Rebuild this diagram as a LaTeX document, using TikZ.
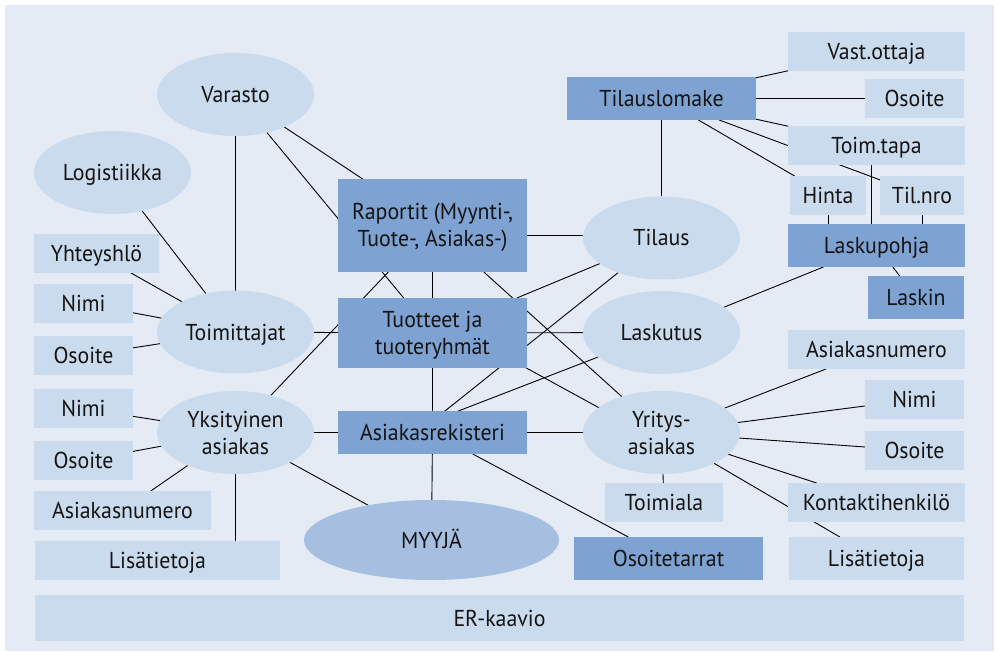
\documentclass[tikz,border=0pt]{standalone}
\usepackage{fontspec}
\setmainfont{PT Sans}[FakeStretch=0.95]
\usetikzlibrary{shapes.geometric}
\definecolor{paneBg}{HTML}{E4EBF5}
\definecolor{attrFill}{HTML}{CBDBEE}
\definecolor{entityFill}{HTML}{7EA2D2}
\definecolor{sellerFill}{HTML}{A6BFE0}
\pgfdeclarelayer{backdrop}
\pgfdeclarelayer{wires}
\pgfsetlayers{backdrop,wires,main}

\begin{document}
\begin{tikzpicture}[x=1pt,y=-1pt,
  every node/.style={font=\fontsize{23}{27}\selectfont, text=black!92, inner sep=0pt, outer sep=0pt},
  one/.style={text height=16pt, text depth=0pt},
  two/.style={align=center, text height=43pt, text depth=0pt},
  box/.style 2 args={rectangle, minimum width=#1pt, minimum height=#2pt},
  attr/.style={fill=attrFill},
  entity/.style={fill=entityFill},
  oval/.style={ellipse, fill=attrFill, minimum width=157pt, minimum height=83pt},
  wire/.style={draw=black, line width=0.9pt}
]
\useasboundingbox (0,0) rectangle (998,652);

% ---- entity ellipses ----
\node[oval,one] (varasto) at (235.5,94.5) {Varasto};
\node[oval,one] (logistiikka) at (112.5,172.5) {Logistiikka};
\node[oval,one] (toimittajat) at (235.5,332) {Toimittajat};
\node[oval,two] (yksityinen) at (235.5,432.5) {Yksityinen\\asiakas};
\node[oval,one] (tilaus) at (661.5,238) {Tilaus};
\node[oval,one] (laskutus) at (661.5,332.5) {Laskutus};
\node[oval,two] (yritys) at (661.5,432.5) {Yritys-\\asiakas};
\node[oval,one,fill=sellerFill,minimum width=255pt,minimum height=80pt] (myyja) at (431.5,540) {MYYJÄ};

% ---- main records ----
\node[entity,box={189}{93},two] (raportit) at (432.5,225.5) {Raportit (Myynti-,\\Tuote-, Asiakas-)};
\node[entity,box={189}{70},two] (tuotteet) at (432.5,333) {Tuotteet ja\\tuoteryhmät};
\node[entity,box={189}{43},one] (asiakasrek) at (432.5,432.5) {Asiakasrekisteri};
\node[entity,box={189}{43},one] (tilauslomake) at (661.5,98.5) {Tilauslomake};
\node[entity,box={177}{43},one] (laskupohja) at (876.5,245.5) {Laskupohja};
\node[entity,box={96}{43},one] (laskin) at (916,297.5) {Laskin};
\node[entity,box={189}{43},one] (osoitetarrat) at (668.5,558.5) {Osoitetarrat};

% ---- attributes ----
\node[attr,box={177}{39},one] (vastottaja) at (876.5,51.5) {Vast.ottaja};
\node[attr,box={99}{39},one] (osoitea) at (914.5,98.5) {Osoite};
\node[attr,box={177}{39},one] (toimtapa) at (876.5,145.5) {Toim.tapa};
\node[attr,box={76}{39},one] (hinta) at (828,195.5) {Hinta};
\node[attr,box={84}{39},one] (tilnro) at (922,195.5) {Til.nro};

\node[attr,box={125}{39},one] (yhteyshlo) at (96.5,253.5) {Yhteyshlö};
\node[attr,box={99}{39},one] (nimia) at (83.5,303.5) {Nimi};
\node[attr,box={99}{39},one] (osoiteb) at (83.5,355.5) {Osoite};
\node[attr,box={99}{39},one] (nimib) at (83.5,408.5) {Nimi};
\node[attr,box={99}{39},one] (osoitec) at (83.5,460.5) {Osoite};
\node[attr,box={177}{39},one] (asnrol) at (122.5,510.5) {Asiakasnumero};
\node[attr,box={245}{39},one] (lisatl) at (157.5,560.5) {Lisätietoja};

\node[attr,box={177}{39},one] (asnror) at (876.5,349.5) {Asiakasnumero};
\node[attr,box={99}{39},one] (nimir) at (914.5,399.5) {Nimi};
\node[attr,box={99}{39},one] (osoiter) at (914.5,450.5) {Osoite};
\node[attr,box={177}{39},one] (kontakti) at (876.5,502.5) {Kontaktihenkilö};
\node[attr,box={175}{43},one] (lisatr) at (876.5,558.5) {Lisätietoja};
\node[attr,box={118}{39},one] (toimiala) at (664,502.5) {Toimiala};

\node[attr,box={929}{46},one] (er) at (499.5,618) {ER-kaavio};

\coordinate (ahub) at ([yshift=11.5pt]asiakasrek.center);

% ---- panel ----
\begin{pgfonlayer}{backdrop}
  \fill[paneBg] (5,5) rectangle (994,651);
\end{pgfonlayer}

% ---- connectors, running beneath the shapes ----
\begin{pgfonlayer}{wires}
  \path[wire] (varasto) -- (toimittajat);
  \path[wire] (varasto) -- (raportit);
  \path[wire] (varasto) -- (tuotteet);
  \path[wire] (logistiikka) -- (toimittajat);
  \path[wire] (yhteyshlo) -- (toimittajat);
  \path[wire] (nimia) -- (toimittajat);
  \path[wire] (osoiteb) -- (toimittajat);
  \path[wire] (toimittajat) -- (tuotteet);
  \path[wire] (nimib) -- (yksityinen);
  \path[wire] (osoitec) -- (yksityinen);
  \path[wire] (asnrol) -- (yksityinen);
  \path[wire] (yksityinen) -- (yksityinen |- lisatl.north);
  \path[wire] (yksityinen) -- (asiakasrek);
  \path[wire] (yksityinen) -- (myyja);
  \path[wire] (yksityinen) -- (raportit);
  \path[wire] (raportit) -- (tuotteet);
  \path[wire] (tuotteet) -- (asiakasrek);
  \path[wire] (asiakasrek) -- (myyja);
  \path[wire] (asiakasrek) -- (osoitetarrat);
  \path[wire] (asiakasrek) -- (yritys);
  \path[wire] (ahub) -- (tilaus);
  \path[wire] (ahub) -- (laskutus);
  \path[wire] (raportit) -- (yritys);
  \path[wire] (tuotteet) -- (tilaus);
  \path[wire] (tuotteet) -- (laskutus);
  \path[wire] ([yshift=16.4pt]tuotteet.center) -- ([yshift=-9.5pt]yritys.center);
  \path[wire] ([yshift=2.5pt]tilaus.west) -- ([yshift=2.5pt]tilaus.west -| raportit.east);
  \path[wire] (tilauslomake) -- (tilaus);
  \path[wire] (tilauslomake) -- (vastottaja);
  \path[wire] (tilauslomake) -- (osoitea);
  \path[wire] (tilauslomake) -- (toimtapa);
  \path[wire] (tilauslomake) -- (tilnro);
  \path[wire] (tilauslomake) -- (hinta);
  \path[wire] ([xshift=-5.5pt]toimtapa.center) -- ([xshift=-5.5pt]toimtapa.center |- laskupohja.north);
  \path[wire] (hinta) -- (hinta |- laskupohja.north);
  \path[wire] (tilnro) -- (tilnro |- laskupohja.north);
  \path[wire] (laskupohja) -- (laskin);
  \path[wire] (laskupohja) -- (laskutus);
  \path[wire] (yritys) -- (asnror);
  \path[wire] (yritys) -- (nimir);
  \path[wire] (yritys) -- (osoiter);
  \path[wire] (yritys) -- (kontakti);
  \path[wire] (yritys) -- (lisatr);
  \path[wire] (yritys) -- (toimiala);
\end{pgfonlayer}
\end{tikzpicture}
\end{document}
